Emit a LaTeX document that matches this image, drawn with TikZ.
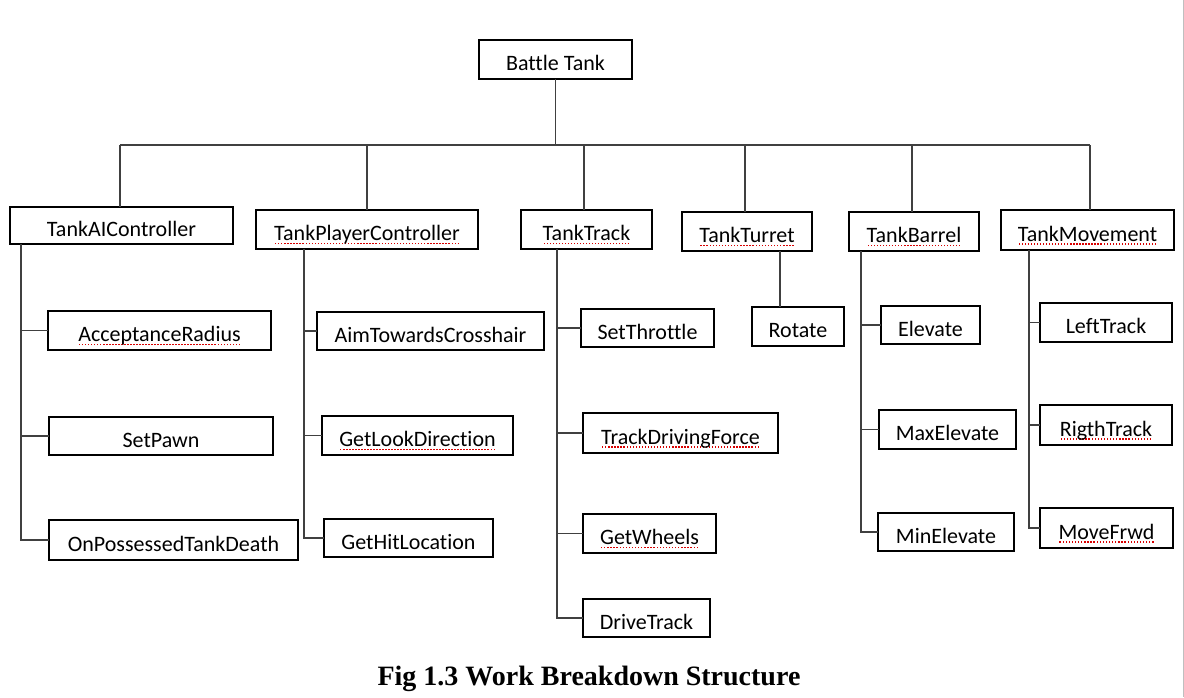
\documentclass[tikz,border=0pt]{standalone}
\usepackage{fontspec}
\setmainfont{Carlito}[Ligatures=NoCommon]
\newfontfamily\capfont{Liberation Serif}
\newcommand\sq[1]{\setbox0=\hbox{#1}\rlap{\raisebox{-3.5pt}{\textcolor{red!85!black}{\hbox to \wd0{\xleaders\hbox to 3pt{\hss\vrule width 1.3pt height 1.3pt\hss}\hfil}}}}\box0}
\newcommand\bx[6]{\node[bx, minimum width={#4-#2}, minimum height={#5-#3}] (#1) at ({(#2+#4)/2},{(#3+#5)/2}) {#6};}
\begin{document}
\begin{tikzpicture}[x=1pt,y=-1pt,
  bx/.style={draw=black, line width=2.6pt, inner sep=0pt, outer sep=0pt, text height=22pt, text depth=0pt, font=\fontsize{22}{26}\selectfont},
  conn/.style={draw=black!75, line width=1.4pt}]
\useasboundingbox (0,0) rectangle (1184,697);
% root
\bx{bt}{479}{40}{632}{79}{Battle Tank}
% level 1
\bx{ai}{10}{207}{233}{244}{TankAIController}
\bx{pc}{256}{210}{478}{249}{\sq{TankPlayerController}}
\bx{tt}{521}{210}{652}{249}{\sq{TankTrack}}
\bx{tu}{682}{212}{812}{251}{\sq{TankTurret}}
\bx{tb}{849}{212}{979}{251}{\sq{TankBarrel}}
\bx{tm}{1001}{210}{1174}{250}{\sq{TankMovement}}
% column 1
\bx{ar}{48}{311}{271}{350}{\sq{AcceptanceRadius}}
\bx{sp}{49}{417}{273}{455}{SetPawn}
\bx{od}{49}{520}{298}{560}{OnPossessedTankDeath}
% column 2
\bx{at}{317}{312}{544}{350}{AimTowardsCrosshair}
\bx{gl}{322}{416}{513}{455}{\sq{GetLookDirection}}
\bx{gh}{324}{519}{493}{557}{GetHitLocation}
% column 3
\bx{st}{581}{309}{714}{347}{SetThrottle}
\bx{td}{583}{413}{778}{453}{\sq{TrackDrivingForce}}
\bx{gw}{583}{514}{716}{553}{\sq{GetWheels}}
\bx{dt}{583}{599}{710}{637}{DriveTrack}
% turret
\bx{ro}{752}{307}{844}{346}{Rotate}
% column 5
\bx{el}{881}{306}{980}{344}{Elevate}
\bx{mx}{879}{410}{1016}{449}{MaxElevate}
\bx{mn}{878}{513}{1014}{551}{MinElevate}
% column 6
\bx{lt}{1040}{303}{1172}{342}{LeftTrack}
\bx{rt}{1040}{405}{1172}{445}{\sq{RigthTrack}}
\bx{mf}{1040}{508}{1173}{548}{\sq{MoveFrwd}}
% bus
\coordinate (busL) at (120,145);
\coordinate (busR) at (1090,145);
\draw[conn] (bt.south) -- (bt.south |- busL);
\draw[conn] (busL) -- (busR);
\foreach \n/\s in {ai/-1.5,pc/0,tt/-2.5,tu/-2,tb/-2,tm/2.5}{
  \draw[conn] ([xshift=\s pt]\n.north) -- ([xshift=\s pt]\n.north |- busL);
}
% spines
\foreach \c in {ar,sp,od}{\draw[conn] ([xshift=11pt]ai.south west) |- (\c.west);}
\foreach \c in {at,gl,gh}{\draw[conn] ([xshift=48pt]pc.south west) |- (\c.west);}
\foreach \c in {st,td,gw,dt}{\draw[conn] ([xshift=36pt]tt.south west) |- (\c.west);}
\draw[conn] ([xshift=33pt]tu.south) -- ([xshift=33pt]tu.south |- ro.north);
\foreach \c in {el,mx,mn}{\draw[conn] ([xshift=12pt]tb.south west) |- (\c.west);}
\foreach \c in {lt,rt,mf}{\draw[conn] ([xshift=28pt]tm.south west) |- (\c.west);}
% caption
\node[anchor=base, inner sep=0pt, font=\capfont\bfseries\fontsize{28}{32}\selectfont] (cap) at (589,685) {Fig 1.3 Work Breakdown Structure};
% page edge
\draw[black!25, line width=1pt] (1183,0) -- (1183,697);
\end{tikzpicture}
\end{document}
